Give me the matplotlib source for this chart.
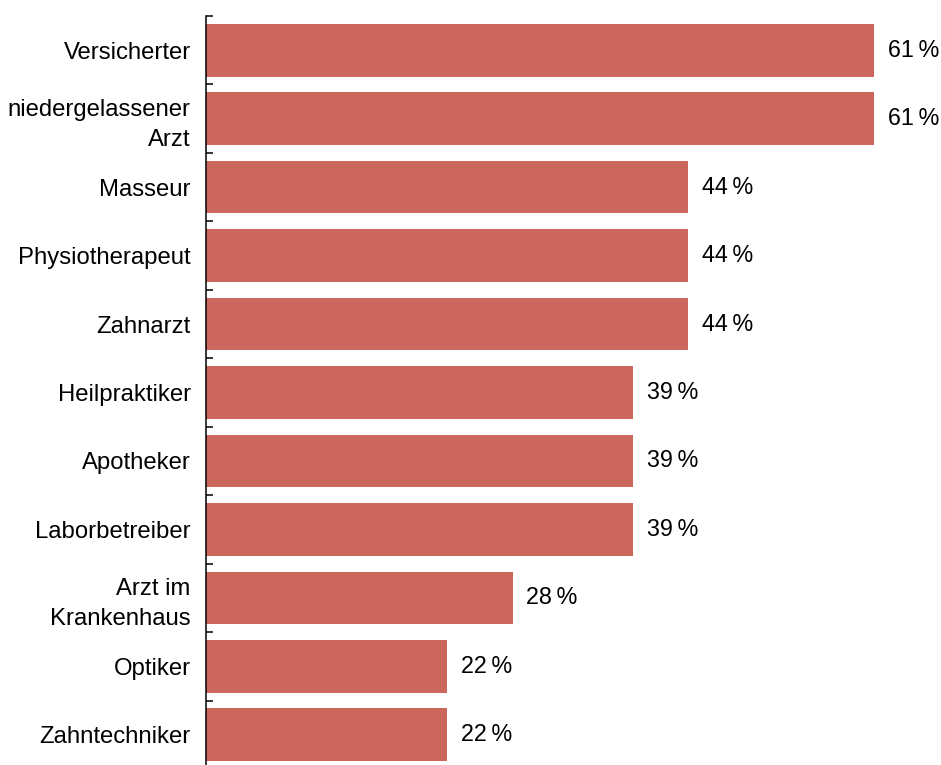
import matplotlib.pyplot as plt
import numpy as np

plt.rcParams['font.family'] = ['Liberation Sans', 'DejaVu Sans']

# Werte aus der Grafik
kategorien = ['Versicherter', 'niedergelassener\nArzt', 'Masseur', 'Physiotherapeut',
              'Zahnarzt', 'Heilpraktiker', 'Apotheker', 'Laborbetreiber',
              'Arzt im\nKrankenhaus', 'Optiker', 'Zahntechniker']
werte = [61, 61, 44, 44, 44, 39, 39, 39, 28, 22, 22]

farbe = '#CC675D'

fig = plt.figure(figsize=(9.41, 7.65), dpi=100)
ax = fig.add_axes([206 / 941, -4 / 765, 1 - 206 / 941, 1 - 12 / 765])

y = np.arange(len(kategorien))
ax.barh(y, werte, height=0.77, color=farbe)

for yi, w in zip(y, werte):
    ax.text(w + 1.25, yi, f'{w}\u2009%', va='center', ha='left', fontsize=16.8)

ax.set_xlim(0, 67.1)
ax.set_ylim(len(kategorien) - 0.5, -0.5)

ax.set_yticks(y)
ax.set_yticklabels(kategorien, fontsize=17.2, linespacing=1.45)
ax.set_yticks(np.arange(-0.5, len(kategorien), 1), minor=True)
ax.tick_params(axis='y', which='major', length=0, pad=11)
ax.tick_params(axis='y', which='minor', direction='in', length=5, width=1.1)
ax.set_xticks([])

for s in ['top', 'right', 'bottom']:
    ax.spines[s].set_visible(False)
ax.spines['left'].set_linewidth(1.1)

fig.savefig('out.png', dpi=100)
